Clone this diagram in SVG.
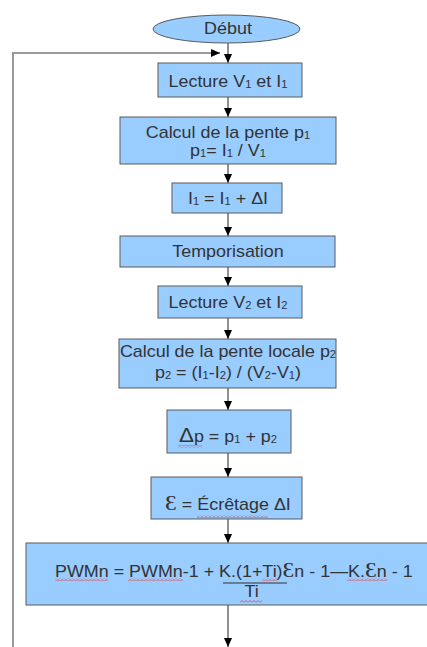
<svg xmlns="http://www.w3.org/2000/svg" width="427" height="647" viewBox="0 0 427 647">
<style>
.box{fill:#99ccff;stroke:#5a5a5a;stroke-width:1}
.t{font-family:"Liberation Sans",Arial,sans-serif;font-size:16px;fill:#333;text-anchor:middle}
.st{text-anchor:start}
.s{font-size:10px}
.big{font-family:"Liberation Serif","DejaVu Serif",serif;font-size:21px}
.line{fill:none;stroke:#222;stroke-width:1}
.loop{fill:none;stroke:#9a9a9a;stroke-width:2}
</style>
<defs>
<marker id="ah" viewBox="0 0 10 10" refX="10" refY="5" markerWidth="9" markerHeight="8" markerUnits="userSpaceOnUse" orient="auto" preserveAspectRatio="none">
<path d="M0,0 L10,5 L0,10 z" fill="#000"/>
</marker>
<pattern id="wave" patternUnits="userSpaceOnUse" width="4" height="3">
<path d="M0,2.5 L2,0.5 L4,2.5" fill="none" stroke="#e03c3c" stroke-width="0.8"/>
</pattern>
</defs>

<g id="connectors">
<path class="loop" d="M13,647 V53 H211"/>
<path class="line" d="M211,53 H220" marker-end="url(#ah)"/>
<path class="line" d="M228,43 V63" marker-end="url(#ah)"/>
<path class="line" d="M228,97 V117" marker-end="url(#ah)"/>
<path class="line" d="M228,164 V183" marker-end="url(#ah)"/>
<path class="line" d="M228,213 V236" marker-end="url(#ah)"/>
<path class="line" d="M228,267 V286" marker-end="url(#ah)"/>
<path class="line" d="M228,318 V339" marker-end="url(#ah)"/>
<path class="line" d="M228,388 V410" marker-end="url(#ah)"/>
<path class="line" d="M228,453 V477" marker-end="url(#ah)"/>
<path class="line" d="M228,519 V543" marker-end="url(#ah)"/>
<path class="line" d="M228,605 V647" marker-end="url(#ah)"/>
</g>

<g id="start"><ellipse class="box" cx="226.5" cy="29" rx="73.5" ry="14"/></g>
<g id="read1"><rect class="box" x="158" y="63" width="144" height="34"/></g>
<g id="slope1"><rect class="box" x="120" y="117" width="216" height="47"/></g>
<g id="inc"><rect class="box" x="172" y="183" width="110" height="30"/></g>
<g id="delay"><rect class="box" x="120" y="236" width="215" height="31"/></g>
<g id="read2"><rect class="box" x="158" y="286" width="144" height="32"/></g>
<g id="slope2"><rect class="box" x="119" y="339" width="217" height="49"/></g>
<g id="dp"><rect class="box" x="167" y="410" width="124" height="43"/></g>
<g id="eps"><rect class="box" x="151" y="477" width="151" height="42"/></g>
<g id="pwm"><rect class="box" x="26" y="543" width="410" height="62"/>
<line x1="223" y1="583" x2="287" y2="583" stroke="#333" stroke-width="1"/>
</g>

<g id="labels" transform="matrix(1.12 0 0 1 -27.36 0)">
<text class="t" x="228" y="34">Début</text>
<text class="t" x="228" y="87">Lecture V<tspan class="s" dy="1">1</tspan><tspan dy="-1"> et I</tspan><tspan class="s" dy="1">1</tspan></text>
<text class="t" x="228" y="138">Calcul de la pente p<tspan class="s" dy="1">1</tspan></text>
<text class="t" x="228" y="156">p<tspan class="s" dy="1">1</tspan><tspan dy="-1">= I</tspan><tspan class="s" dy="1">1</tspan><tspan dy="-1"> / V</tspan><tspan class="s" dy="1">1</tspan></text>
<text class="t" x="228" y="204">I<tspan class="s" dy="1">1</tspan><tspan dy="-1"> = I</tspan><tspan class="s" dy="1">1</tspan><tspan dy="-1"> + ΔI</tspan></text>
<text class="t" x="228" y="257">Temporisation</text>
<text class="t" x="228" y="308">Lecture V<tspan class="s" dy="1">2</tspan><tspan dy="-1"> et I</tspan><tspan class="s" dy="1">2</tspan></text>
<text class="t" x="228" y="357">Calcul de la pente locale p<tspan class="s" dy="1">2</tspan></text>
<text class="t" x="228" y="378">p<tspan class="s" dy="1">2</tspan><tspan dy="-1"> = (I</tspan><tspan class="s" dy="1">1</tspan><tspan dy="-1">-I</tspan><tspan class="s" dy="1">2</tspan><tspan dy="-1">) / (V</tspan><tspan class="s" dy="1">2</tspan><tspan dy="-1">-V</tspan><tspan class="s" dy="1">1</tspan><tspan dy="-1">)</tspan></text>
<text class="t" x="228" y="442"><tspan font-size="20">Δ</tspan>p = p<tspan class="s" dy="1">1</tspan><tspan dy="-1"> + p</tspan><tspan class="s" dy="1">2</tspan></text>
<text class="t" x="228" y="510"><tspan class="big">Ɛ</tspan> = Écrêtage ΔI</text>
<text class="t st" x="73.5" y="577">PWMn = PWMn-1 + K.(1+Ti)<tspan class="big" font-size="19">Ɛ</tspan>n - 1—K.<tspan class="big" font-size="19">Ɛ</tspan>n - 1</text>
<text class="t" x="249" y="597">Ti</text>
</g>

<g id="spellmarks">
<rect x="178" y="445" width="24" height="3" fill="url(#wave)"/>
<rect x="197" y="515" width="71" height="3" fill="url(#wave)"/>
<rect x="55" y="578" width="53" height="3" fill="url(#wave)"/>
<rect x="128" y="578" width="55" height="3" fill="url(#wave)"/>
<rect x="262" y="578" width="15" height="3" fill="url(#wave)"/>
<rect x="347" y="578" width="40" height="3" fill="url(#wave)"/>
<rect x="240" y="600" width="22" height="3" fill="url(#wave)"/>
</g>
</svg>
